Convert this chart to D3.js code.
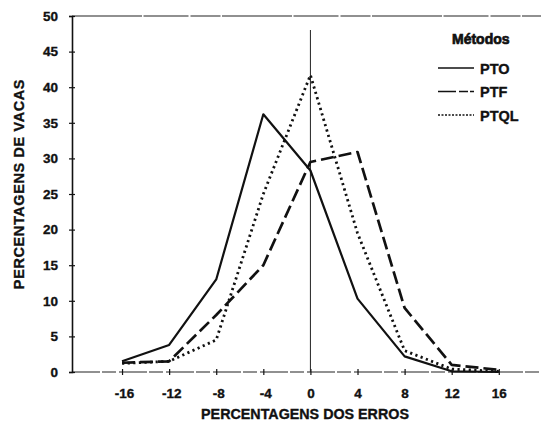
<!DOCTYPE html>
<html>
<head>
<meta charset="utf-8">
<script src="https://cdn.jsdelivr.net/npm/d3@7"></script>
<style>
  body { margin: 0; background: #fff; }
  svg text { font-family: "Liberation Sans", Arial, sans-serif; font-weight: bold; fill: #111; stroke: #111; stroke-width: 0.35px; }
</style>
</head>
<body>
<div id="chart-container"></div>
<script>
// error distribution per method - % of cows vs % error

const errs = [-16, -12, -8, -4, 0, 4, 8, 12, 16];
const pto  = [1.5, 3.8, 13, 36.2, 28.3, 10.3, 2.2, 0.1, 0];
const ptf  = [1.3, 1.5, 8, 15, 29.5, 30.9, 9, 1, 0.3];
const ptql = [1.2, 1.5, 4.5, 25, 41.7, 19.5, 3, 0.4, 0.1];
const yTicks = [0, 5, 10, 15, 20, 25, 30, 35, 40, 45, 50];
const methods = ["PTO", "PTF", "PTQL"];

const svgWidth = 541;
const svgHeight = 424;

const svg = d3.select("#chart-container")
    .append("svg")
    .attr("width", svgWidth)
    .attr("height", svgHeight);

const scaleX = d3.scaleLinear().domain([-20.25, 19.5]).range([72, 540]);
const scaleY = d3.scaleLinear().domain([0, 50]).range([372, 16]);

// frame: top border and bottom axis line (thin, slightly broken in the scan)
svg.append("line")
    .attr("x1", 72).attr("x2", 541)
    .attr("y1", scaleY(50)).attr("y2", scaleY(50))
    .attr("stroke", "#222").attr("stroke-width", 1.2)
    .attr("stroke-dasharray", "70,1.5,45,2,30,1.5");

svg.append("line")
    .attr("x1", 72).attr("x2", 541)
    .attr("y1", scaleY(0)).attr("y2", scaleY(0))
    .attr("stroke", "#222").attr("stroke-width", 1.2)
    .attr("stroke-dasharray", "28,2,14,3");

// y axis
const yAxis = svg.append("g")
    .attr("transform", `translate(${scaleX(-20.25)},0)`)
    .call(d3.axisLeft(scaleY).tickValues(yTicks).tickSize(3).tickPadding(11));
yAxis.select(".domain").attr("stroke", "#111").attr("stroke-width", 1.6);
yAxis.selectAll(".tick line").attr("stroke", "#111").attr("stroke-width", 1.2);
yAxis.selectAll(".tick").append("line").attr("x2", 3).attr("stroke", "#111").attr("stroke-width", 1.2);
yAxis.selectAll(".tick text")
    .attr("font-size", "13.5px")
    .attr("font-family", "Liberation Sans, Arial, sans-serif")
    .attr("font-weight", "bold")
    .attr("fill", "#111");

// x axis ticks
const xAxis = svg.append("g")
    .attr("transform", `translate(0,${scaleY(0)})`)
    .call(d3.axisBottom(scaleX).tickValues(errs).tickSize(3).tickPadding(13)
        .tickFormat(d => d < 0 ? "-" + Math.abs(d) : String(d)));
xAxis.select(".domain").remove();
xAxis.selectAll(".tick line").attr("stroke", "#111").attr("stroke-width", 1.2);
xAxis.selectAll(".tick").append("line").attr("y2", -3).attr("stroke", "#111").attr("stroke-width", 1.2);
xAxis.selectAll(".tick text")
    .attr("font-size", "13.5px")
    .attr("font-family", "Liberation Sans, Arial, sans-serif")
    .attr("font-weight", "bold")
    .attr("fill", "#111")
    .attr("dx", d => d < 0 ? 2 : 0);

// vertical reference line at zero error
svg.append("line")
    .attr("x1", scaleX(0)).attr("x2", scaleX(0))
    .attr("y1", 30).attr("y2", scaleY(0))
    .attr("stroke", "#222").attr("stroke-width", 1);

// series
const line = d3.line()
    .x((d, i) => scaleX(errs[i]))
    .y(d => scaleY(d));

const styles = {
    PTO:  { data: pto,  width: 2.2, dash: null, cap: "butt" },
    PTF:  { data: ptf,  width: 2.7, dash: "13,5", cap: "butt" },
    PTQL: { data: ptql, width: 2.8, dash: "2.2,3.4", cap: "butt" }
};

methods.forEach(function(m) {
    const s = styles[m];
    svg.append("path")
        .datum(s.data)
        .attr("d", line)
        .attr("fill", "none")
        .attr("stroke", "#111")
        .attr("stroke-width", s.width)
        .attr("stroke-linecap", s.cap)
        .attr("stroke-linejoin", "round")
        .attr("stroke-dasharray", s.dash);
});

// axis titles
svg.append("text")
    .attr("x", 305)
    .attr("y", 419)
    .attr("text-anchor", "middle")
    .attr("font-size", "14.3px")
    .text("PERCENTAGENS DOS ERROS");

svg.append("text")
    .attr("transform", "rotate(-90)")
    .attr("x", -184)
    .attr("y", 24)
    .attr("text-anchor", "middle")
    .attr("font-size", "14.5px")
    .style("letter-spacing", "0.6px")
    .text("PERCENTAGENS DE VACAS");

// legend
const legendG = svg.append("g").attr("transform", "translate(438, 0)");

legendG.append("text")
    .attr("x", 14).attr("y", 44)
    .attr("font-size", "14px")
    .style("stroke-width", "0.7px")
    .text("Métodos");

methods.forEach(function(m, i) {
    const s = styles[m];
    const y = 68 + i * 23.5;
    legendG.append("line")
        .attr("x1", 0).attr("x2", 36)
        .attr("y1", y).attr("y2", y)
        .attr("stroke", "#111")
        .attr("stroke-width", 1.6)
        .attr("stroke-dasharray", m === "PTF" ? "18,3,9,2,6" : (m === "PTQL" ? "2,1.5" : null));
    legendG.append("text")
        .attr("x", 42).attr("y", y + 5.5)
        .attr("font-size", "14.5px")
        .text(m);
});
</script>
</body>
</html>
